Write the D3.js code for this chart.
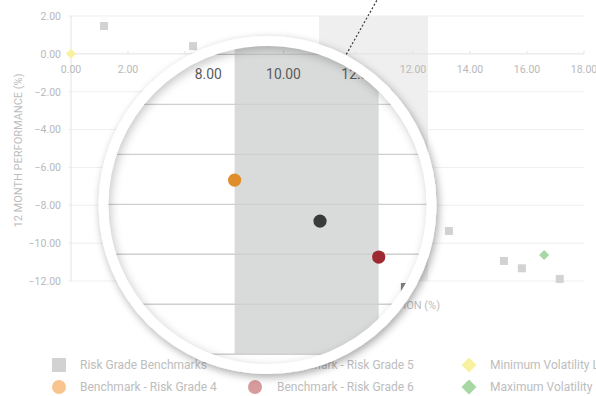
<!DOCTYPE html>
<html>
<head>
<meta charset="utf-8">
<script src="https://cdn.jsdelivr.net/npm/d3@7"></script>
<style>
  html, body { margin: 0; padding: 0; background: #ffffff; }
  svg { display: block; font-family: Roboto, "DejaVu Sans", sans-serif; }
</style>
</head>
<body>
<svg id="chart" width="596" height="396"></svg>
<script>
// ---- data ----
const xTicks = [0, 2, 4, 6, 8, 10, 12, 14, 16, 18];
const yTicks = [2, 0, -2, -4, -6, -8, -10, -12];

const benchmarkName = "Risk Grade Benchmarks";
const benchmarkVol  = [1.16, 4.28, 13.26, 15.19, 15.82, 17.15];
const benchmarkPerf = [1.47, 0.41, -9.36, -10.94, -11.33, -11.89];

const gradeNames = ["Benchmark - Risk Grade 4", "Benchmark - Risk Grade 5", "Benchmark - Risk Grade 6"];
const gradeVol   = [8.7, 10.97, 12.53];
const gradePerf  = [-5.03, -6.67, -8.11];

const limitNames = ["Minimum Volatility Limit", "Maximum Volatility Limit"];
const limitVol   = [0, 16.6];
const limitPerf  = [0, -10.63];

const xTitle = "12 MONTH STANDARD DEVIATION (%)";
const yTitle = "12 MONTH PERFORMANCE (%)";

// ---- layout ----
const W = 596, H = 396;
const x = d3.scaleLinear().domain([0, 18]).range([71, 584]);
const y = d3.scaleLinear().domain([-12, 2]).range([281, 16]);
const fmt = d3.format(".2f");

// lens: centre, content radius, ring radius, zoom factor and offset
const lens = { cx: 267.5, cy: 205, r: 159, ring: 169, k: 1.32, tx: -186.4, ty: -16.7 };
const distToLens = (px, py) => Math.hypot(px - lens.cx, py - lens.cy);

const themes = {
  base: {
    grid: "#efefef", axis: "#e3e3e3", band: "#efefef", tick: "#b9b9b9",
    square: "#d2d2d2", grades: ["#f8c590", "#a9a9a9", "#d89b9d"], limits: ["#f8f2a0", "#a7d7a2"]
  },
  focus: {
    grid: "#cfcfcf", axis: "#c4c4c4", band: "#d9dada", tick: "#5a5a5a",
    square: "#7e7e7e", grades: ["#e08e2b", "#3a3a3a", "#9d2a31"], limits: ["#f0e14a", "#5cb85c"]
  }
};

// screen position of a plot point, for the plain view and the lens view
const screenBase = (px, py) => [px, py];
const screenLens = (px, py) => [lens.k * px + lens.tx, lens.k * py + lens.ty];
// a tick label is only drawn where some of it can be seen
const visibleBase = (px, py) => distToLens(...screenBase(px, py)) > lens.ring;
const visibleLens = (px, py) => distToLens(...screenLens(px, py)) < lens.r + 10;

const svg = d3.select("#chart");
const defs = svg.append("defs");

defs.append("clipPath").attr("id", "lensClip")
  .append("circle").attr("cx", lens.cx).attr("cy", lens.cy).attr("r", lens.r);

const ringShadow = defs.append("filter").attr("id", "ringShadow")
  .attr("x", "-20%").attr("y", "-20%").attr("width", "140%").attr("height", "140%");
ringShadow.append("feGaussianBlur").attr("in", "SourceAlpha").attr("stdDeviation", 4);
ringShadow.append("feOffset").attr("dx", 2).attr("dy", 3).attr("result", "off");
ringShadow.append("feComponentTransfer").append("feFuncA").attr("type", "linear").attr("slope", 0.35);
const m = ringShadow.append("feMerge");
m.append("feMergeNode");
m.append("feMergeNode").attr("in", "SourceGraphic");

defs.append("filter").attr("id", "soft")
  .attr("x", "-20%").attr("y", "-20%").attr("width", "140%").attr("height", "140%")
  .append("feGaussianBlur").attr("stdDeviation", 5);

const diamond = h => `M0,${-h}L${h},0L0,${h}L${-h},0Z`;

// draws the plot area (band, grid, axes, markers) with a colour theme
function drawPlot(g, t, visible) {
  g.append("rect")
    .attr("x", x(d3.min(gradeVol))).attr("width", x(d3.max(gradeVol)) - x(d3.min(gradeVol)))
    .attr("y", y(2)).attr("height", y(-12) - y(2))
    .attr("fill", t.band);

  g.selectAll(".grid").data(yTicks).join("line")
    .attr("x1", x(0) - 3).attr("x2", x(18))
    .attr("y1", d => y(d)).attr("y2", d => y(d))
    .attr("stroke", d => d === 0 ? t.axis : t.grid).attr("stroke-width", 1);

  g.append("line")
    .attr("x1", x(0)).attr("x2", x(0)).attr("y1", y(2)).attr("y2", y(-12))
    .attr("stroke", t.axis);

  g.selectAll(".xt").data(xTicks).join("line")
    .attr("x1", d => x(d)).attr("x2", d => x(d))
    .attr("y1", y(0)).attr("y2", y(0) - 3)
    .attr("stroke", t.axis);

  g.selectAll(".xl").data(xTicks.filter(d => visible(x(d), y(0) + 15))).join("text")
    .attr("x", d => x(d)).attr("y", y(0) + 19)
    .attr("text-anchor", "middle").attr("font-size", 10.5).attr("fill", t.tick)
    .text(d => fmt(d));

  g.selectAll(".yl").data(yTicks.filter(d => visible(x(0) - 22, y(d)))).join("text")
    .attr("x", x(0) - 10).attr("y", d => y(d) + 3.8)
    .attr("text-anchor", "end").attr("font-size", 10.5).attr("fill", t.tick)
    .text(d => fmt(d));

  g.selectAll(".bm").data(benchmarkVol).join("rect")
    .attr("x", (d, i) => x(d) - 4).attr("y", (d, i) => y(benchmarkPerf[i]) - 4)
    .attr("width", 8).attr("height", 8).attr("fill", t.square);

  g.selectAll(".lim").data(limitVol).join("path")
    .attr("d", diamond(5))
    .attr("transform", (d, i) => `translate(${x(d)},${y(limitPerf[i])})`)
    .attr("fill", (d, i) => t.limits[i]);

  g.selectAll(".grade").data(gradeVol).join("circle")
    .attr("cx", d => x(d)).attr("cy", (d, i) => y(gradePerf[i]))
    .attr("r", 5).attr("fill", (d, i) => t.grades[i]);
}

// ---- base chart ----
const base = svg.append("g");
drawPlot(base, themes.base, visibleBase);

base.append("text")
  .attr("transform", `translate(22,${(y(2) + y(-12)) / 2 + 2}) rotate(-90)`)
  .attr("text-anchor", "middle").attr("font-size", 11).attr("fill", "#bdbdbd")
  .text(yTitle);

base.append("text")
  .attr("x", 440).attr("y", 309)
  .attr("text-anchor", "end").attr("font-size", 11).attr("fill", "#bdbdbd")
  .text(xTitle);

// ---- legend ----
const legendCols = [{ sx: 59, tx: 80 }, { sx: 255, tx: 277 }, { sx: 469, tx: 490 }];
const legendRows = [365, 387];
const legendItems = [
  { name: benchmarkName, shape: "square", color: themes.base.square, col: 0, row: 0 },
  { name: gradeNames[0], shape: "circle", color: themes.base.grades[0], col: 0, row: 1 },
  { name: gradeNames[1], shape: "circle", color: themes.base.grades[1], col: 1, row: 0 },
  { name: gradeNames[2], shape: "circle", color: themes.base.grades[2], col: 1, row: 1 },
  { name: limitNames[0], shape: "diamond", color: themes.base.limits[0], col: 2, row: 0 },
  { name: limitNames[1], shape: "diamond", color: themes.base.limits[1], col: 2, row: 1 }
];
const leg = base.append("g");
legendItems.forEach(it => {
  const cx = legendCols[it.col].sx, cy = legendRows[it.row];
  if (it.shape === "square") {
    leg.append("rect").attr("x", cx - 7).attr("y", cy - 7).attr("width", 14).attr("height", 14).attr("fill", it.color);
  } else if (it.shape === "circle") {
    leg.append("circle").attr("cx", cx).attr("cy", cy).attr("r", 7).attr("fill", it.color);
  } else {
    leg.append("path").attr("d", diamond(7.5)).attr("transform", `translate(${cx},${cy})`).attr("fill", it.color);
  }
  leg.append("text").attr("x", legendCols[it.col].tx).attr("y", cy + 4.3)
    .attr("font-size", 12).attr("fill", "#bdbdbd").text(it.name);
});

// ---- magnifying lens ----
svg.append("circle")
  .attr("cx", lens.cx).attr("cy", lens.cy).attr("r", lens.ring)
  .attr("fill", "#ffffff").attr("filter", "url(#ringShadow)");

const inner = svg.append("g").attr("clip-path", "url(#lensClip)");
inner.append("circle").attr("cx", lens.cx).attr("cy", lens.cy).attr("r", lens.r).attr("fill", "#ffffff");
const zoomed = inner.append("g")
  .attr("transform", `translate(${lens.tx},${lens.ty}) scale(${lens.k})`);
drawPlot(zoomed, themes.focus, visibleLens);

// inner shadow along the lens rim
inner.append("circle")
  .attr("cx", lens.cx + 2).attr("cy", lens.cy + 3).attr("r", lens.r + 9)
  .attr("fill", "none").attr("stroke", "rgba(0,0,0,0.22)").attr("stroke-width", 18)
  .attr("filter", "url(#soft)");

// dotted pointer leaving the rim
const a0 = Math.atan2(53 - lens.cy, 347 - lens.cx);
const sx = lens.cx + (lens.ring + 1) * Math.cos(a0), sy = lens.cy + (lens.ring + 1) * Math.sin(a0);
const dir = -60.5 * Math.PI / 180;
svg.append("line")
  .attr("x1", sx).attr("y1", sy)
  .attr("x2", sx + 64 * Math.cos(dir)).attr("y2", sy + 64 * Math.sin(dir))
  .attr("stroke", "#3a3a3a").attr("stroke-width", 1.2).attr("stroke-dasharray", "2,2");
</script>
</body>
</html>
